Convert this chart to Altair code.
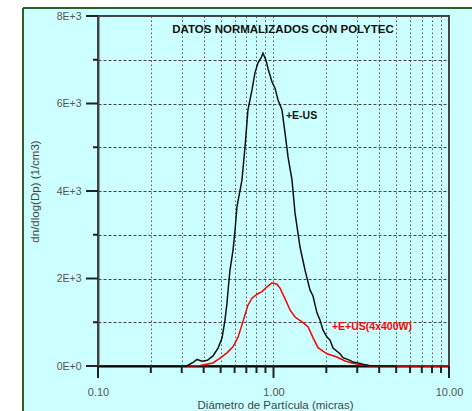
import altair as alt
import pandas as pd

# Size distributions: particle diameter (microns) vs dn/dlog(Dp) (1/cm3)
diam_e_us = [0.32, 0.35, 0.367, 0.391, 0.42, 0.452, 0.483, 0.509, 0.529, 0.543,
             0.553, 0.565, 0.588, 0.604, 0.619, 0.661, 0.688, 0.715, 0.754, 0.784,
             0.816, 0.849, 0.871, 0.906, 0.930, 0.981, 1.020, 1.061, 1.118, 1.163,
             1.210, 1.275, 1.326, 1.416, 1.512, 1.614, 1.679, 1.770, 1.841, 1.915,
             2.018, 2.099, 2.183, 2.393, 2.489, 2.729, 2.838, 3.112, 3.236, 3.5,
             4.0, 5.0]
conc_e_us = [0, 90, 150, 110, 130, 230, 410, 640, 1050, 1430,
             1800, 2190, 2650, 3110, 3640, 4250, 5000, 5850, 6310, 6700,
             6930, 7040, 7150, 6990, 6800, 6490, 6350, 6080, 5850, 5330,
             4780, 4250, 3500, 2720, 2190, 1740, 1600, 1210, 1050, 820,
             660, 590, 410, 280, 190, 130, 90, 60, 40, 10,
             0, 0]

diam_e_us_400w = [0.321, 0.381, 0.452, 0.496, 0.543, 0.588, 0.628, 0.661, 0.688, 0.715,
                  0.754, 0.805, 0.860, 0.918, 0.981, 1.047, 1.089, 1.163, 1.242, 1.326,
                  1.454, 1.573, 1.679, 1.793, 2.018, 2.300, 2.555, 2.838, 3.236, 3.6,
                  6.0, 10.0]
conc_e_us_400w = [0, 10, 70, 180, 300, 440, 660, 940, 1170, 1390,
                  1550, 1640, 1700, 1810, 1900, 1870, 1780, 1540, 1280, 1120,
                  1010, 900, 650, 420, 280, 205, 115, 65, 20, 0,
                  0, 0]

# Axis positions
x_grid = [0.1, 0.2, 0.3, 0.4, 0.5, 0.6, 0.7, 0.8, 0.9,
          1, 2, 3, 4, 5, 6, 7, 8, 9, 10]
x_major = [0.1, 1, 10]
x_minor = [0.2, 0.3, 0.4, 0.5, 0.6, 0.7, 0.8, 0.9, 2, 3, 4, 5, 6, 7, 8, 9]
y_grid = [0, 1000, 2000, 3000, 4000, 5000, 6000, 7000, 8000]
y_major = [0, 2000, 4000, 6000, 8000]
y_minor = [1000, 3000, 5000, 7000]

# Annotations (placed in data coordinates)
heading = ["DATOS NORMALIZADOS CON POLYTEC"]
heading_x = [1.133]
heading_y = [7690]
series_labels = ["+E-US", "+E+US(4x400W)"]
series_label_x = [1.178, 2.154]
series_label_y = [5714, 890]
series_colors = ["#111111", "#ff0000"]

FONT = "Liberation Sans"
BG = "#ccffff"
FRAME = "#2e5e2e"

x_scale = alt.Scale(type="log", domain=[0.1, 10])
y_scale = alt.Scale(domain=[0, 8000], nice=False, zero=True)

x_axis = alt.Axis(
    values=x_grid, ticks=False, grid=True,
    gridColor="#555555", gridDash=[1.5, 2.5], gridWidth=1,
    domainColor="#000000", domainWidth=2,
    labelExpr="(datum.value == 0.1 || datum.value == 1 || datum.value == 10) ? format(datum.value, '.2f') : ''",
    labelFlush=False, labelOverlap=False,
    labelFont=FONT, labelFontSize=11, labelColor="#555555", labelPadding=20,
    title="Diámetro de Partícula (micras)", titleFont=FONT, titleFontSize=11.5,
    titleFontWeight="normal", titleColor="#444444",
    titleX=177, titleY=39, titleAlign="center", titleBaseline="middle",
)
y_axis = alt.Axis(
    values=y_grid, ticks=False, grid=True,
    gridColor="#444444", gridDash=[3, 2], gridWidth=1,
    domainColor="#444444", domainWidth=2,
    labelExpr="datum.value == 0 ? '0E+0' : (datum.value % 2000 == 0 ? (datum.value / 1000) + 'E+3' : '')",
    labelFlush=False, labelOverlap=False,
    labelFont=FONT, labelFontSize=10.5, labelColor="#555555", labelPadding=17,
    title="dn/dlog(Dp) (1/cm3)", titleFont=FONT, titleFontSize=11.5,
    titleFontWeight="normal", titleColor="#444444",
    titleX=-63, titleY=175, titleAngle=270, titleAlign="center", titleBaseline="middle",
)


def xenc(field):
    return alt.X(f"{field}:Q", scale=x_scale, axis=x_axis)


def yenc(field):
    return alt.Y(f"{field}:Q", scale=y_scale, axis=y_axis)


one = alt.Data(values=[{}])

# Page frame: white margin strips and a dark green border line
left_strip = alt.Chart(one).mark_rect(color="white").encode(
    x=alt.value(-98), x2=alt.value(-75), y=alt.value(-16), y2=alt.value(400))
top_strip = alt.Chart(one).mark_rect(color="white").encode(
    x=alt.value(-98), x2=alt.value(380), y=alt.value(-16), y2=alt.value(-8))
frame_v = alt.Chart(one).mark_rule(color=FRAME, strokeWidth=2).encode(
    x=alt.value(-75), y=alt.value(-8), y2=alt.value(400))
frame_h = alt.Chart(one).mark_rule(color=FRAME, strokeWidth=2).encode(
    x=alt.value(-75), x2=alt.value(380), y=alt.value(-8))

# Tick marks (long at labelled values, short in between)
xt_major = alt.Chart(pd.DataFrame({"v": x_major})).mark_rule(color="#222222", strokeWidth=2).encode(
    x=xenc("v"), y=alt.value(350), y2=alt.value(362))
xt_minor = alt.Chart(pd.DataFrame({"v": x_minor})).mark_rule(color="#222222", strokeWidth=2).encode(
    x=xenc("v"), y=alt.value(350), y2=alt.value(357))
yt_major = alt.Chart(pd.DataFrame({"v": y_major})).mark_rule(color="#222222", strokeWidth=2).encode(
    y=yenc("v"), x=alt.value(0), x2=alt.value(-12))
yt_minor = alt.Chart(pd.DataFrame({"v": y_minor})).mark_rule(color="#222222", strokeWidth=2).encode(
    y=yenc("v"), x=alt.value(0), x2=alt.value(-5))

df_a = pd.DataFrame({"d": diam_e_us, "n": conc_e_us, "i": range(len(diam_e_us))})
df_b = pd.DataFrame({"d": diam_e_us_400w, "n": conc_e_us_400w, "i": range(len(diam_e_us_400w))})

line_b = alt.Chart(df_b).mark_line(color="#ff0000", strokeWidth=1.5).encode(
    x=xenc("d"), y=yenc("n"), order="i:Q")
line_a = alt.Chart(df_a).mark_line(color="#111111", strokeWidth=1.5).encode(
    x=xenc("d"), y=yenc("n"), order="i:Q")

df_lab = pd.DataFrame({"x": series_label_x, "y": series_label_y,
                       "t": series_labels, "c": series_colors})
labels = alt.Chart(df_lab).mark_text(
    align="left", baseline="middle", font=FONT, fontSize=10.5, fontWeight="bold"
).encode(x=xenc("x"), y=yenc("y"), text="t:N", color=alt.Color("c:N", scale=None))

df_head = pd.DataFrame({"x": heading_x, "y": heading_y, "t": heading})
head = alt.Chart(df_head).mark_text(
    align="center", baseline="middle", font=FONT, fontSize=11.5, fontWeight="bold", color="#111111"
).encode(x=xenc("x"), y=yenc("y"), text="t:N")

chart = alt.layer(
    left_strip, top_strip, frame_v, frame_h,
    line_b, line_a, xt_major, xt_minor, yt_major, yt_minor, labels, head,
).properties(
    width=351, height=350,
    autosize=alt.AutoSizeParams(type="none"),
    padding={"left": 98, "top": 16, "right": 23, "bottom": 45},
    background=BG,
).configure_view(stroke="#444444", strokeWidth=2)

chart.save("out.html", embed_options={"renderer": "svg", "actions": False})
